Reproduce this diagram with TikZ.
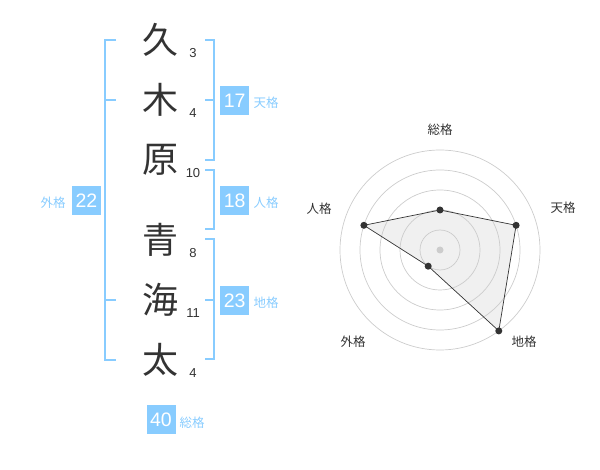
\documentclass[tikz,border=0pt]{standalone}
\usepackage{fontspec}
\setmainfont{Liberation Sans}
\newfontfamily\jpfont{Noto Sans CJK JP}
\definecolor{skyb}{HTML}{88CCFF}
\definecolor{ink}{HTML}{333333}
\definecolor{ring}{HTML}{CCCCCC}
\definecolor{area}{HTML}{F0F0F0}
\begin{document}
\begin{tikzpicture}[x=1pt,y=-1pt,
  kanji/.style={font=\jpfont\fontsize{36}{36}\selectfont,text=ink,inner sep=0pt},
  strokes/.style={font=\fontsize{13}{13}\selectfont,text=ink,inner sep=0pt},
  scorebox/.style={fill=skyb,text=white,minimum width=29pt,minimum height=29pt,inner sep=0pt,font=\fontsize{19.5}{19.5}\selectfont},
  kaku/.style={font=\jpfont\fontsize{12.5}{12.5}\selectfont,text=skyb,inner sep=0pt},
  axislabel/.style={font=\jpfont\fontsize{12.5}{12.5}\selectfont,text=ink,inner sep=0pt},
  bracket/.style={draw=skyb,line width=2pt},
  ringline/.style={draw=ring,line width=0.7pt},
  dot/.style={circle,fill=ink,inner sep=0pt,minimum size=7pt}]
\useasboundingbox (0,0) rectangle (600,470);
% name characters
\node[kanji] (c1) at (160,40) {久};
\node[kanji] (c2) at (160,100) {木};
\node[kanji] (c3) at (160,160) {原};
\node[kanji] (c4) at (160,240) {青};
\node[kanji] (c5) at (160,300) {海};
\node[kanji] (c6) at (160,360) {太};
% stroke counts
\node[strokes] (s1) at (193,53) {3};
\node[strokes] (s2) at (193,113) {4};
\node[strokes] (s3) at (193,173) {10};
\node[strokes] (s4) at (193,253) {8};
\node[strokes] (s5) at (193,313) {11};
\node[strokes] (s6) at (193,373) {4};
% brackets
\draw[bracket] (116,40) -- (105,40) -- (105,360) -- (116,360);
\draw[bracket] (105,100) -- (116,100);
\draw[bracket] (105,300) -- (116,300);
\draw[bracket] (205,40) -- (214,40) -- (214,160) -- (205,160);
\draw[bracket] (205,100) -- (214,100);
\draw[bracket] (205,170) -- (214,170) -- (214,229) -- (205,229);
\draw[bracket] (205,239) -- (214,239) -- (214,359) -- (205,359);
\draw[bracket] (205,300) -- (214,300);
% score boxes
\node[scorebox] (b17) at (234.7,100.5) {17};
\node[scorebox] (b18) at (234.7,200.5) {18};
\node[scorebox] (b23) at (234.7,300.5) {23};
\node[scorebox] (b22) at (86.5,200.5) {22};
\node[scorebox] (b40) at (161,419.5) {40};
\node[kaku] (l17) at (266,103) {天格};
\node[kaku] (l18) at (266,203) {人格};
\node[kaku] (l23) at (266,303) {地格};
\node[kaku] (l22) at (53,203) {外格};
\node[kaku] (l40) at (192,422.5) {総格};
% radar chart
\coordinate (psou) at (440,210);
\coordinate (pten) at (516.1,225.3);
\coordinate (pchi) at (498.8,330.9);
\coordinate (pgai) at (428.2,266.2);
\coordinate (pjin) at (363.9,225.3);
\fill[area] (psou) -- (pten) -- (pchi) -- (pgai) -- (pjin) -- cycle;
\foreach \r in {20,40,60,80,100} \draw[ringline] (440,250) circle (\r);
\fill[ring] (440,250) circle (3.5);
\draw[draw=ink,line width=0.7pt]
  (psou) -- (pten) -- (pchi) -- (pgai) -- (pjin) -- cycle;
\foreach \p in {psou,pten,pchi,pgai,pjin} \node[dot] at (\p) {};
\node[axislabel] (asou) at (440,130) {総格};
\node[axislabel] (aten) at (563,208) {天格};
\node[axislabel] (achi) at (524,342) {地格};
\node[axislabel] (agai) at (353,342) {外格};
\node[axislabel] (ajin) at (319,209) {人格};
\end{tikzpicture}
\end{document}
